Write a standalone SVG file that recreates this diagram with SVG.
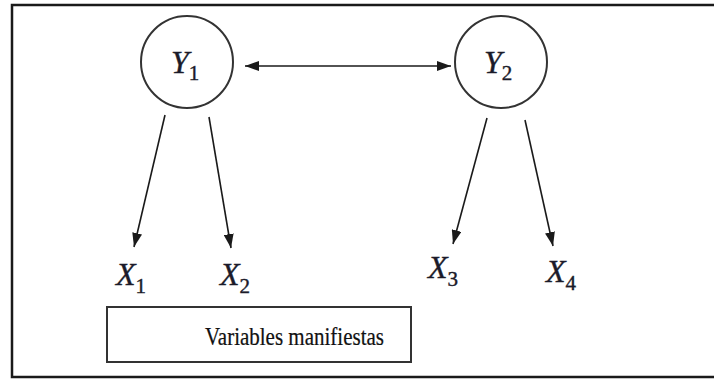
<svg xmlns="http://www.w3.org/2000/svg" width="714" height="381" viewBox="0 0 714 381">
  <defs>
    <marker id="head" viewBox="0 0 14 10" refX="14" refY="5" markerWidth="14" markerHeight="10" markerUnits="userSpaceOnUse" orient="auto-start-reverse">
      <path d="M0,0 L14,5 L0,10 z" fill="#1a1a1a"/>
    </marker>
    <style>
      .frame { fill: #fff; stroke: #1a1a1a; stroke-width: 2.5; }
      .latent { fill: #fff; stroke: #333; stroke-width: 2; }
      .box { fill: #fff; stroke: #333; stroke-width: 2; }
      .edge { stroke: #1a1a1a; stroke-width: 1.6; fill: none; marker-end: url(#head); }
      .var { font-style: italic; font-size: 32px; fill: #1b1b2a; stroke: #1b1b2a; stroke-width: 0.4; }
      .sub { font-style: normal; font-size: 21px; }
      .caption { font-size: 21px; fill: #111; stroke: #111; stroke-width: 0.2; }
    </style>
  </defs>

  <rect x="0" y="0" width="714" height="381" fill="#fff"/>
  <!-- outer frame, open past the right edge -->
  <rect class="frame" x="12" y="5" width="720" height="372"/>

  <!-- connectors -->
  <g id="connectors">
    <line class="edge" x1="245" y1="66" x2="451" y2="66" style="marker-start: url(#head)"/>
    <line class="edge" x1="165" y1="115" x2="134" y2="247"/>
    <line class="edge" x1="209" y1="117" x2="231" y2="248"/>
    <line class="edge" x1="487" y1="118" x2="453" y2="244"/>
    <line class="edge" x1="525" y1="120" x2="553" y2="246"/>
  </g>

  <g font-family="'Liberation Serif', 'DejaVu Serif', serif">
    <!-- latent variables -->
    <g id="Y1">
      <circle class="latent" cx="187" cy="62" r="46"/>
      <text class="var" x="171" y="73">Y<tspan class="sub" dx="0" dy="7">1</tspan></text>
    </g>
    <g id="Y2">
      <circle class="latent" cx="501" cy="62" r="46"/>
      <text class="var" x="484" y="73">Y<tspan class="sub" dx="0" dy="7">2</tspan></text>
    </g>

    <!-- manifest variables -->
    <g id="X1">
      <text class="var" x="116" y="285">X<tspan class="sub" dx="0" dy="8">1</tspan></text>
    </g>
    <g id="X2">
      <text class="var" x="220" y="285">X<tspan class="sub" dx="0" dy="8">2</tspan></text>
    </g>
    <g id="X3">
      <text class="var" x="428" y="278">X<tspan class="sub" dx="0" dy="8">3</tspan></text>
    </g>
    <g id="X4">
      <text class="var" x="546" y="282">X<tspan class="sub" dx="0" dy="8">4</tspan></text>
    </g>

    <g id="manifest-label">
      <rect class="box" x="107" y="307" width="304" height="55"/>
      <!-- caption slightly stretched vertically -->
      <text class="caption" transform="translate(205 345) scale(1 1.2)" x="0" y="0">Variables manifiestas</text>
    </g>
  </g>
</svg>
